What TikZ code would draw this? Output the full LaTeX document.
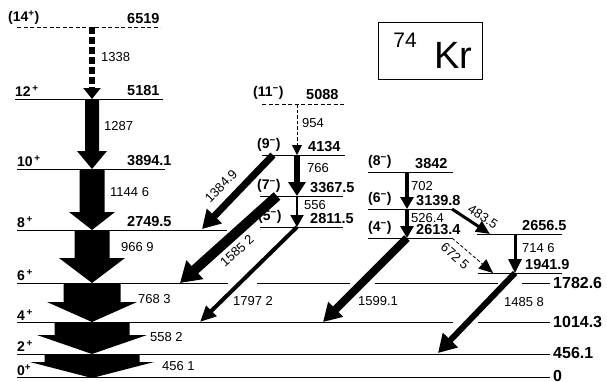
\documentclass[tikz,border=0pt]{standalone}
\usepackage{fontspec}
\setmainfont{Liberation Sans}
\usetikzlibrary{arrows.meta,calc}

% wide band arrow of the yrast cascade: from, to, shaft and head half widths, head length
\newcommand{\bandarrow}[5]{%
  \fill let \p1=(#1), \p2=(#2) in
    (\x2-#3pt,\y1) -- (\x2+#3pt,\y1) -- (\x2+#3pt,\y2+#5pt) -- (\x2+#4pt,\y2+#5pt)
    -- (\x2,\y2) -- (\x2-#4pt,\y2+#5pt) -- (\x2-#3pt,\y2+#5pt) -- cycle;}

\begin{document}
\begin{tikzpicture}[x=1pt,y=-1pt,
    lvl/.style={line width=0.9pt},
    lvldash/.style={lvl,dash pattern=on 4pt off 2.5pt},
    en/.style={font=\fontsize{14.5}{16}\selectfont\bfseries,inner sep=0pt,anchor=south west},
    enr/.style={font=\fontsize{16}{18}\selectfont\bfseries,inner sep=0pt,anchor=west},
    spin/.style={font=\fontsize{14}{16}\selectfont\bfseries,inner sep=0pt,anchor=south west},
    gam/.style={font=\fontsize{13}{15}\selectfont,inner sep=0pt,anchor=west},
    gline/.style n args={3}{line width=#1pt,-{Triangle[width=#2pt,length=#3pt]}},
  ]
  \useasboundingbox (0,0) rectangle (607,381);

  % levels, ground band
  \draw[lvldash] (17,27) -- (160,27);
  \draw[lvl] (15,99) -- (163,99);
  \draw[lvl] (17,169) -- (165,169);
  \draw[lvl] (17,230) -- (227,230);
  \draw[lvl] (17,283) -- (228,283) (257,283) -- (350,283) (375,283) -- (498,283) (522,283) -- (550,283);
  \draw[lvl] (17,322) -- (453,322) (478,322) -- (550,322);
  \draw[lvl] (17,354) -- (550,354);
  \draw[lvl] (17,377) -- (550,377);

  % levels, side bands
  \draw[lvldash] (262,104) -- (345,104);
  \draw[lvl] (262,155) -- (345,155);
  \draw[lvl] (260,196) -- (343,196);
  \draw[lvl] (260,227) -- (343,227);
  \draw[lvl] (368,172) -- (453,172);
  \draw[lvl] (368,209) -- (452,209);
  \draw[lvl] (368,238) -- (452,238);
  \draw[lvl] (477,234) -- (562,234);
  \draw[lvl] (478,273) -- (562,273);

  % transition end points
  \coordinate (g14) at (92,27);
  \coordinate (g12) at (92,99);
  \coordinate (g10) at (92,169);
  \coordinate (g8) at (92,230);
  \coordinate (g6) at (92,283);
  \coordinate (g4) at (92,322);
  \coordinate (g2) at (92,354);
  \coordinate (g0) at (92,378);
  \coordinate (m11) at (297,104);
  \coordinate (m9) at (297,155);
  \coordinate (m7) at (297,196);
  \coordinate (m5) at (297,227);
  \coordinate (r8) at (407,172);
  \coordinate (r6) at (407,209);
  \coordinate (r4) at (407,238);
  \coordinate (s26) at (515,234);
  \coordinate (s19) at (515,273);
  \coordinate (m9b) at (273,155);
  \coordinate (m7b) at (277,196);
  \coordinate (r6b) at (452,209);
  \coordinate (r4b) at (452,238);
  \coordinate (e8) at (202,229);
  \coordinate (e6) at (180,283);
  \coordinate (e4a) at (200,322);
  \coordinate (e4b) at (323,322);
  \coordinate (e2) at (438,353);
  \coordinate (e26) at (490,234);
  \coordinate (e19) at (493,273);

  % yrast cascade
  \draw[line width=5.5pt,dash pattern=on 6.5pt off 3.5pt,-{Triangle[width=17pt,length=11pt]}] (g14) -- (g12);
  \bandarrow{g12}{g10}{7}{15}{18}
  \bandarrow{g10}{g8}{12.5}{23}{18}
  \bandarrow{g8}{g6}{17.5}{33}{25}
  \bandarrow{g6}{g4}{28.5}{45}{20}
  \bandarrow{g4}{g2}{37.5}{55}{19}
  \bandarrow{g2}{g0}{47.5}{62}{16}

  % side bands
  \draw[line width=0.8pt,dash pattern=on 3.5pt off 2pt,-{Triangle[width=10pt,length=10pt]}] (m11) -- (m9);
  \draw[gline={6}{17}{14}] (m9) -- (m7);
  \draw[gline={2}{13}{12}] (m7) -- (m5);
  \draw[gline={4}{13}{12}] (r8) -- (r6);
  \draw[gline={4}{13}{12}] (r6) -- (r4);
  \draw[gline={3}{13}{14}] (s26) -- (s19);
  \draw[gline={3}{12}{14}] (r6b) -- (e26);
  \draw[line width=0.8pt,dash pattern=on 3.5pt off 2pt,-{Triangle[width=12pt,length=14pt]}] (r4b) -- (e19);

  % interband transitions
  \draw[gline={7}{20}{18}] (m9b) -- (e8);
  \draw[gline={10}{24}{20}] (m7b) -- (e6);
  \draw[gline={4}{14}{16}] (m5) -- (e4a);
  \draw[gline={8}{20}{18}] (r4) -- (e4b);
  \draw[gline={6}{20}{18}] (s19) -- (e2);

  % spins
  \node[spin] (j14) at (8,25) {(14\textsuperscript{+})};
  \node[spin] (j12) at (15,97) {12\textsuperscript{\,+}};
  \node[spin] (j10) at (17,167) {10\textsuperscript{\,+}};
  \node[spin] (j8) at (17,228) {8\textsuperscript{\,+}};
  \node[spin] (j6) at (17,281) {6\textsuperscript{\,+}};
  \node[spin] (j4) at (17,321) {4\textsuperscript{\,+}};
  \node[spin] (j2) at (17,352) {2\textsuperscript{\,+}};
  \node[spin] (j0) at (17,376) {0\textsuperscript{+}};
  \node[spin] (j11m) at (253,100) {(11\textsuperscript{−})};
  \node[spin] (j9m) at (257,152) {(9\textsuperscript{−})};
  \node[spin] (j7m) at (257,193) {(7\textsuperscript{−})};
  \node[spin] (j5m) at (258,224) {(5\textsuperscript{−})};
  \node[spin] (j8m) at (368,169) {(8\textsuperscript{−})};
  \node[spin] (j6m) at (368,206) {(6\textsuperscript{−})};
  \node[spin] (j4m) at (368,235) {(4\textsuperscript{−})};

  % level energies
  \node[en] (x6519) at (127,23.5) {6519};
  \node[en] (x5181) at (127,95.5) {5181};
  \node[en] (x3894) at (127,165.5) {3894.1};
  \node[en] (x2749) at (127,226.5) {2749.5};
  \node[en] (x5088) at (306,100) {5088};
  \node[en] (x4134) at (308,151.5) {4134};
  \node[en] (x3367) at (310,192.5) {3367.5};
  \node[en] (x2811) at (310,223.5) {2811.5};
  \node[en] (x3842) at (415,168.5) {3842};
  \node[en] (x3139) at (416,205.5) {3139.8};
  \node[en] (x2613) at (416,234.5) {2613.4};
  \node[en] (x2656) at (522,230.5) {2656.5};
  \node[en] (x1941) at (525,269.5) {1941.9};
  \node[enr] (x1782) at (553,283) {1782.6};
  \node[enr] (x1014) at (553,322) {1014.3};
  \node[enr] (x456) at (553,353) {456.1};
  \node[enr] (x0) at (553,375.5) {0};

  % gamma energies
  \node[gam] (t1338) at (101,57) {1338};
  \node[gam] (t1287) at (104,126) {1287};
  \node[gam] (t1144) at (110,192) {1144 6};
  \node[gam] (t966) at (121,247) {966 9};
  \node[gam] (t768) at (138,299) {768 3};
  \node[gam] (t558) at (150,337) {558 2};
  \node[gam] (t456) at (162,366) {456 1};
  \node[gam] (t954) at (302,123) {954};
  \node[gam] (t766) at (307,168) {766};
  \node[gam] (t556) at (304,205) {556};
  \node[gam] (t702) at (411,186) {702};
  \node[gam] (t526) at (411,218) {526.4};
  \node[gam] (t714) at (522,248) {714 6};
  \node[gam] (t1797) at (233,301) {1797 2};
  \node[gam] (t1599) at (358,301) {1599.1};
  \node[gam] (t1485) at (504,302) {1485 8};
  \node[gam,anchor=center,rotate=46] (t1384) at (221,186) {1384.9};
  \node[gam,anchor=center,rotate=42] (t1585) at (237,251) {1585 2};
  \node[gam,anchor=center,rotate=-33] (t483) at (483,217) {483.5};
  \node[gam,anchor=center,rotate=-41] (t672) at (455,256) {672 5};

  % nucleus
  \node[draw,line width=0.9pt,minimum width=104pt,minimum height=57pt,inner sep=0pt] (kr) at (430,50.5) {};
  \node[font=\fontsize{21}{22}\selectfont,inner sep=0pt] (mass) at (405,40) {74};
  \node[font=\fontsize{38}{40}\selectfont,inner sep=0pt] (elem) at (453,55) {Kr};
\end{tikzpicture}
\end{document}
